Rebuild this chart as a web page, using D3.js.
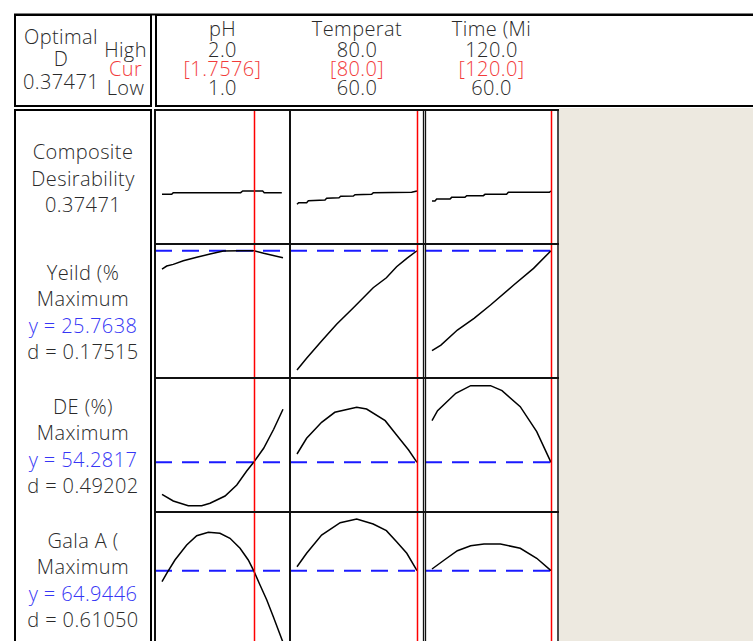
<!DOCTYPE html>
<html><head><meta charset="utf-8">
<script src="https://cdn.jsdelivr.net/npm/d3@7"></script>
<style>
body{margin:0;background:#fff;}
svg{display:block;}
text{font-family:"Open Sans",sans-serif;font-size:20px;font-weight:300;letter-spacing:0.4px;}
</style>
</head><body><svg id="c" width="753" height="641"></svg>
<script>
// ---------- data ----------
const factorNames = ["pH", "Temperat", "Time (Mi"];
const factorHigh = ["2.0", "80.0", "120.0"];
const factorCur = ["[1.7576]", "[80.0]", "[120.0]"];
const factorLow = ["1.0", "60.0", "60.0"];
const factorDomains = [[1, 2], [60, 80], [60, 120]];
const factorCurrent = [1.7576, 80, 120];
const optimalLabel = ["Optimal", "D", "0.37471"];
const settingLabels = ["High", "Cur", "Low"];

const rowLabels = [
  ["Composite", "Desirability", "0.37471"],
  ["Yeild (%", "Maximum", "y = 25.7638", "d = 0.17515"],
  ["DE (%)", "Maximum", "y = 54.2817", "d = 0.49202"],
  ["Gala A (", "Maximum", "y = 64.9446", "d = 0.61050"]
];
const targets = [null, 25.7638, 54.2817, 64.9446];
const yDomains = [[0, 1], [10, 25.86], [43.86, 73.86], [51.48, 75.48]];

const compositeByPH = [[1.0,0.347],[1.08,0.347],[1.093,0.361],[1.65,0.361],[1.667,0.3747],[1.832,0.3747],[1.845,0.361],[1.99,0.361]];
const compositeByTemp = [[60,0.264],[60.28,0.278],[61.61,0.278],[61.89,0.294],[64.67,0.300],[64.94,0.314],[67.0,0.319],[67.28,0.331],[69.39,0.333],[69.67,0.344],[72.44,0.347],[72.72,0.361],[79.11,0.364],[80,0.3747]];
const compositeByTime = [[60,0.292],[61.5,0.292],[62.35,0.308],[69.1,0.308],[69.9,0.322],[76.6,0.322],[77.5,0.336],[85.9,0.336],[86.7,0.347],[97.6,0.347],[98.5,0.364],[119.2,0.364],[120,0.3747]];

const yieldByPH = [[1.0,23.34],[1.039,23.74],[1.093,23.96],[1.176,24.44],[1.287,24.89],[1.397,25.33],[1.507,25.72],[1.645,25.77],[1.7576,25.7638],[1.84,25.42],[2.0,24.84]];
const yieldByTemp = [[60,10.0],[61.6,11.55],[64.1,13.83],[66.6,16.04],[69.4,18.23],[72.7,20.87],[74.9,22.19],[76.6,23.65],[78.3,24.76],[80,25.7638]];
const yieldByTime = [[60,12.55],[64.5,13.30],[72.8,15.28],[81.2,16.83],[89.5,18.59],[101.2,21.23],[111.2,23.43],[120,25.7638]];

const deByPH = [[1.0,46.29],[1.093,44.61],[1.217,43.44],[1.328,43.44],[1.397,44.04],[1.521,45.86],[1.618,48.61],[1.70,52.1],[1.7576,54.2817],[1.84,57.79],[1.923,62.54],[2.0,67.54]];
const deByTemp = [[60,56.36],[61.6,60.29],[64.1,64.29],[66.3,66.79],[69.95,68.04],[71.6,67.61],[74.7,64.69],[76.6,61.11],[78.6,57.36],[80,54.2817]];
const deByTime = [[60,64.69],[62.8,67.19],[72,71.54],[79.5,73.44],[89.5,73.44],[95.3,72.19],[104.5,68.19],[112.8,61.94],[120,54.2817]];

const galaByPH = [[1.0,62.74],[1.039,64.42],[1.107,67.08],[1.204,70.08],[1.287,71.94],[1.383,72.62],[1.479,72.42],[1.562,71.42],[1.645,69.42],[1.713,67.08],[1.7576,64.9446],[1.81,62.08],[1.866,59.08],[1.92,55.74],[2.0,50.6]];
const galaByTemp = [[60,65.74],[61.6,68.42],[64.1,72.08],[67.2,74.54],[69.95,75.28],[72.7,74.28],[74.9,72.94],[76.6,70.74],[78.3,68.42],[80,64.9446]];
const galaByTime = [[60,65.28],[66.2,67.08],[72.8,68.94],[79.5,69.94],[86.2,70.28],[94.5,70.28],[104.5,69.42],[112.8,67.42],[120,64.9446]];

const curves = [
  [compositeByPH, compositeByTemp, compositeByTime],
  [yieldByPH, yieldByTemp, yieldByTime],
  [deByPH, deByTemp, deByTime],
  [galaByPH, galaByTemp, galaByTime]
];

// ---------- layout ----------
const svg = d3.select("#c");
const TXT = "#2a2a2a", RED = "#f23a3a", BLUE = "#3636f5";
const colX = [[155, 290], [290, 424], [425, 558]];
const rowY = [[110, 244], [244, 378], [378, 512], [512, 646]];

// beige background at right
svg.append("rect").attr("x", 559).attr("y", 108).attr("width", 200).attr("height", 540).attr("fill", "#ede9e0");

// header boxes
svg.append("rect").attr("x", 15).attr("y", 15).attr("width", 136).attr("height", 91)
  .attr("fill", "#fff").attr("stroke", "#000").attr("stroke-width", 2);
svg.append("rect").attr("x", 156).attr("y", 15).attr("width", 700).attr("height", 91)
  .attr("fill", "#fff").attr("stroke", "#000").attr("stroke-width", 2);
svg.append("line").attr("x1", 14).attr("x2", 753).attr("y1", 14.5).attr("y2", 14.5).attr("stroke", "#000").attr("stroke-width", 2);

// header left text
const optY = [43.5, 66, 89];
optimalLabel.forEach((t, i) => svg.append("text").attr("x", 61).attr("y", optY[i]).attr("text-anchor", "middle").attr("fill", TXT).text(t));
const setY = [57, 76, 95];
settingLabels.forEach((t, i) => svg.append("text").attr("x", 125.5).attr("y", setY[i]).attr("text-anchor", "middle").attr("fill", i === 1 ? RED : TXT).text(t));

// header factor columns
factorNames.forEach((name, j) => {
  const cx = (colX[j][0] + colX[j][1]) / 2;
  [[name, 36, TXT], [factorHigh[j], 56.5, TXT], [factorCur[j], 76, RED], [factorLow[j], 95, TXT]]
    .forEach(([t, y, c]) => svg.append("text").attr("x", cx).attr("y", y).attr("text-anchor", "middle").attr("fill", c).text(t));
});

// body left label cell
svg.append("rect").attr("x", 15).attr("y", 110).attr("width", 136).attr("height", 560)
  .attr("fill", "#fff").attr("stroke", "#000").attr("stroke-width", 2);

// panels background
svg.append("rect").attr("x", 155).attr("y", 109).attr("width", 403).attr("height", 540).attr("fill", "#fff");

// row labels
rowLabels.forEach((lines, r) => {
  const cy = (rowY[r][0] + rowY[r][1]) / 2;
  const n = lines.length;
  lines.forEach((t, i) => {
    svg.append("text").attr("x", 83).attr("y", cy + (i - (n - 1) / 2) * 26.5 + 8.5)
      .attr("text-anchor", "middle").attr("fill", t.startsWith("y =") ? BLUE : TXT).text(t);
  });
});

// scales
const xScales = factorDomains.map((d, j) => d3.scaleLinear().domain(d).range([colX[j][0] + 7, colX[j][1] - 7]));
const yScales = yDomains.map((d, r) => d3.scaleLinear().domain(d).range([rowY[r][1] - 8, rowY[r][0] + 6]));

// target dashed lines
targets.forEach((t, r) => {
  if (t === null) return;
  const y = yScales[r](t);
  svg.append("line").attr("x1", 155).attr("x2", 558).attr("y1", y).attr("y2", y)
    .attr("stroke", "#1a1aff").attr("stroke-width", 2).attr("stroke-dasharray", "17,10");
});

// curves
curves.forEach((row, r) => {
  row.forEach((pts, j) => {
    const line = d3.line().x(d => xScales[j](d[0])).y(d => yScales[r](d[1]));
    svg.append("path").attr("d", line(pts)).attr("fill", "none").attr("stroke", "#000").attr("stroke-width", 1.5);
  });
});

// current setting red lines
factorCurrent.forEach((v, j) => {
  const x = Math.round(xScales[j](v)) + 0.5;
  svg.append("line").attr("x1", x).attr("x2", x).attr("y1", 109).attr("y2", 646)
    .attr("stroke", "#ff0000").attr("stroke-width", 1.5);
});

// grid lines
const g = svg.append("g").attr("stroke", "#111").attr("fill", "none");
g.append("line").attr("x1", 155).attr("x2", 155).attr("y1", 109).attr("y2", 646).attr("stroke-width", 2);
g.append("line").attr("x1", 290).attr("x2", 290).attr("y1", 109).attr("y2", 646).attr("stroke-width", 2);
g.append("line").attr("x1", 423.5).attr("x2", 423.5).attr("y1", 109).attr("y2", 646).attr("stroke-width", 1.3);
g.append("line").attr("x1", 425.5).attr("x2", 425.5).attr("y1", 109).attr("y2", 646).attr("stroke-width", 1.3);
g.append("line").attr("x1", 558).attr("x2", 558).attr("y1", 109).attr("y2", 646).attr("stroke-width", 1.5);
[110, 244, 378, 512].forEach(y => {
  g.append("line").attr("x1", 154).attr("x2", 559).attr("y1", y).attr("y2", y).attr("stroke-width", 2);
});
</script>
</body></html>
